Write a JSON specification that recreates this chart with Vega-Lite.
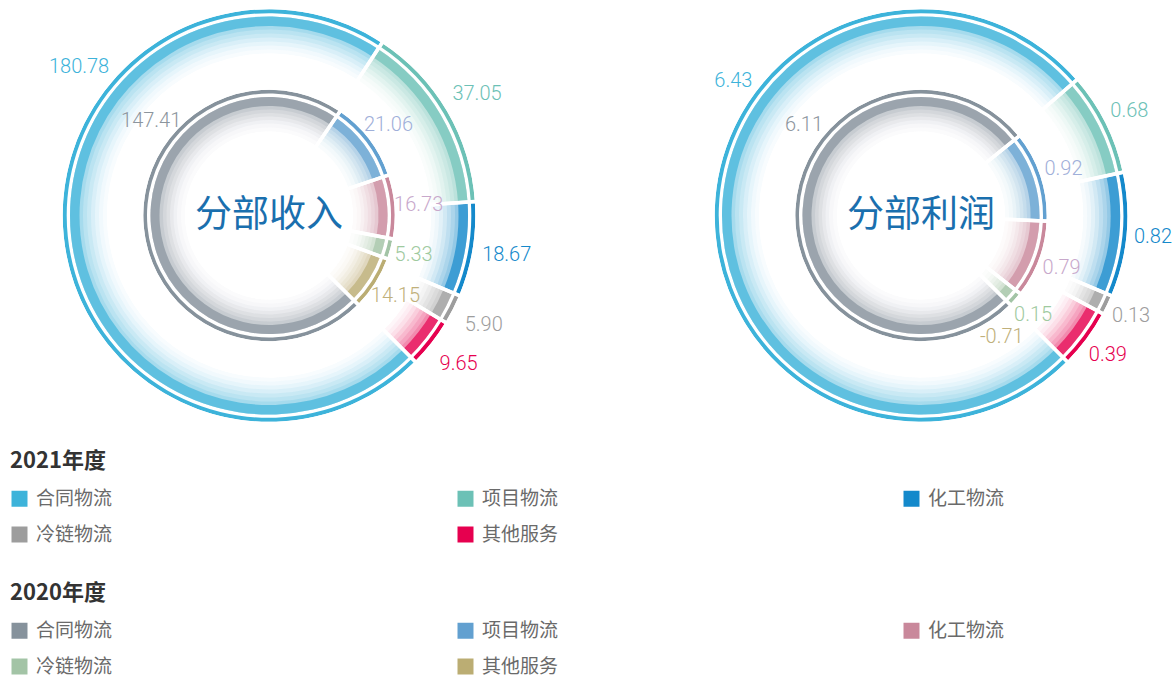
{
  "$schema": "https://vega.github.io/schema/vega-lite/v6.json",
  "padding": {"left": 10, "top": 0, "right": 0, "bottom": 0},
  "background": "white",
  "data": {"values": [
    {"metric": "分部收入", "year": "2021", "seg": "合同物流", "value": 180.78, "share": 180.78},
    {"metric": "分部收入", "year": "2021", "seg": "项目物流", "value": 37.05, "share": 37.05},
    {"metric": "分部收入", "year": "2021", "seg": "化工物流", "value": 18.67, "share": 18.67},
    {"metric": "分部收入", "year": "2021", "seg": "冷链物流", "value": 5.90, "share": 5.90},
    {"metric": "分部收入", "year": "2021", "seg": "其他服务", "value": 9.65, "share": 9.65},
    {"metric": "分部收入", "year": "2020", "seg": "合同物流", "value": 147.41, "share": 147.41},
    {"metric": "分部收入", "year": "2020", "seg": "项目物流", "value": 21.06, "share": 21.06},
    {"metric": "分部收入", "year": "2020", "seg": "化工物流", "value": 16.73, "share": 16.73},
    {"metric": "分部收入", "year": "2020", "seg": "冷链物流", "value": 5.33, "share": 5.33},
    {"metric": "分部收入", "year": "2020", "seg": "其他服务", "value": 14.15, "share": 14.15},
    {"metric": "分部利润", "year": "2021", "seg": "合同物流", "value": 6.43, "share": 6.43},
    {"metric": "分部利润", "year": "2021", "seg": "项目物流", "value": 0.68, "share": 0.68},
    {"metric": "分部利润", "year": "2021", "seg": "化工物流", "value": 0.82, "share": 0.82},
    {"metric": "分部利润", "year": "2021", "seg": "冷链物流", "value": 0.13, "share": 0.13},
    {"metric": "分部利润", "year": "2021", "seg": "其他服务", "value": 0.39, "share": 0.39},
    {"metric": "分部利润", "year": "2020", "seg": "合同物流", "value": 6.11, "share": 6.11},
    {"metric": "分部利润", "year": "2020", "seg": "项目物流", "value": 0.92, "share": 0.92},
    {"metric": "分部利润", "year": "2020", "seg": "化工物流", "value": 0.79, "share": 0.79},
    {"metric": "分部利润", "year": "2020", "seg": "冷链物流", "value": 0.15, "share": 0.15},
    {"metric": "分部利润", "year": "2020", "seg": "其他服务", "value": -0.71, "share": 0}
  ]},
  "transform": [{"window": [{"op": "row_number", "as": "rank"}]}],
  "facet": {"column": {"field": "metric", "type": "nominal", "sort": ["分部收入", "分部利润"], "header": {"title": null, "labels": false}}},
  "spacing": {"column": 130},
  "spec": {
    "width": 518,
    "height": 425,
    "layer": [
      {
        "transform": [{"filter": "datum.year == '2021'"}],
        "encoding": {
          "theta": {"field": "share", "type": "quantitative", "stack": "normalize", "scale": {"range": [2.35619449, 8.6393798]}},
          "order": {"field": "rank", "type": "quantitative"},
          "color": {
            "field": "seg", "type": "nominal",
            "scale": {"domain": ["合同物流", "项目物流", "化工物流", "冷链物流", "其他服务"], "range": ["#3db3da", "#6cc1b6", "#1489cb", "#9d9d9d", "#e6004f"]},
            "legend": {"title": "2021年度", "orient": "bottom", "offset": 20, "direction": "horizontal", "columns": 3, "columnPadding": 343, "rowPadding": 16, "symbolType": "square", "symbolSize": 256, "symbolStrokeWidth": 0, "symbolOpacity": 1, "labelFont": "Noto Sans CJK SC", "labelFontSize": 19, "labelColor": "#6a6a6a", "labelOffset": 7, "labelLimit": 300, "titleFont": "Noto Sans CJK SC", "titleFontSize": 22, "titleFontWeight": "bold", "titleColor": "#333333", "titlePadding": 16, "titleAnchor": "start", "padding": 0}
          }
        },
        "layer": [
          {"mark": {"type": "arc", "radius": 206.3, "radius2": 202.3}},
          {"mark": {"type": "arc", "radius": 199, "radius2": 162, "opacity": 0.035}},
          {"mark": {"type": "arc", "radius": 199, "radius2": 166, "opacity": 0.036}},
          {"mark": {"type": "arc", "radius": 199, "radius2": 170, "opacity": 0.054}},
          {"mark": {"type": "arc", "radius": 199, "radius2": 174, "opacity": 0.08}},
          {"mark": {"type": "arc", "radius": 199, "radius2": 178, "opacity": 0.099}},
          {"mark": {"type": "arc", "radius": 199, "radius2": 182, "opacity": 0.11}},
          {"mark": {"type": "arc", "radius": 199, "radius2": 186, "opacity": 0.154}},
          {"mark": {"type": "arc", "radius": 199, "radius2": 189.5, "opacity": 0.673}},
          {
            "transform": [{"filter": "datum.share > 0"}],
            "mark": {"type": "arc", "radius": 208.05, "radius2": 160.25, "fill": "transparent", "stroke": "white", "strokeWidth": 3.5},
            "encoding": {"color": {"value": "transparent"}}
          },
          {
            "mark": {"type": "text", "radius": 241, "font": "Roboto", "fontWeight": 300, "fontSize": 20, "align": "center", "baseline": "middle"},
            "encoding": {"text": {"condition": {"test": "datum.seg != '合同物流' && datum.metric == '分部收入'", "field": "value", "format": ".2f"}, "value": ""}}
          },
          {
            "mark": {"type": "text", "radius": 233, "font": "Roboto", "fontWeight": 300, "fontSize": 20, "align": "center", "baseline": "middle"},
            "encoding": {"text": {"condition": {"test": "datum.seg != '合同物流' && datum.metric == '分部利润'", "field": "value", "format": ".2f"}, "value": ""}}
          },
          {
            "mark": {"type": "text", "radius": 241, "font": "Roboto", "fontWeight": 300, "fontSize": 20, "align": "center", "baseline": "middle"},
            "encoding": {
              "theta": {"field": "share", "type": "quantitative", "stack": "normalize", "bandPosition": 0.67, "scale": {"range": [2.35619449, 8.6393798]}},
              "text": {"condition": {"test": "datum.seg == '合同物流' && datum.metric == '分部收入'", "field": "value", "format": ".2f"}, "value": ""}
            }
          },
          {
            "mark": {"type": "text", "radius": 231, "font": "Roboto", "fontWeight": 300, "fontSize": 20, "align": "center", "baseline": "middle"},
            "encoding": {
              "theta": {"field": "share", "type": "quantitative", "stack": "normalize", "bandPosition": 0.623, "scale": {"range": [2.35619449, 8.6393798]}},
              "text": {"condition": {"test": "datum.seg == '合同物流' && datum.metric == '分部利润'", "field": "value", "format": ".2f"}, "value": ""}
            }
          }
        ]
      },
      {
        "transform": [{"filter": "datum.year == '2020'"}],
        "encoding": {
          "theta": {"field": "share", "type": "quantitative", "stack": "normalize", "scale": {"range": [2.35619449, 8.6393798]}},
          "order": {"field": "rank", "type": "quantitative"},
          "fill": {
            "field": "seg", "type": "nominal",
            "scale": {"domain": ["合同物流", "项目物流", "化工物流", "冷链物流", "其他服务"], "range": ["#86929c", "#62a0d0", "#c9889b", "#a3c4a6", "#bbad73"]},
            "legend": {"title": "2020年度", "orient": "none", "legendX": 0, "legendY": 580, "direction": "horizontal", "columns": 3, "columnPadding": 343, "rowPadding": 16, "symbolType": "square", "symbolSize": 256, "symbolStrokeWidth": 0, "symbolOpacity": 1, "labelFont": "Noto Sans CJK SC", "labelFontSize": 19, "labelColor": "#6a6a6a", "labelOffset": 7, "labelLimit": 300, "titleFont": "Noto Sans CJK SC", "titleFontSize": 22, "titleFontWeight": "bold", "titleColor": "#333333", "titlePadding": 16, "titleAnchor": "start", "padding": 0}
          }
        },
        "layer": [
          {"mark": {"type": "arc", "radius": 125.7, "radius2": 122}},
          {"mark": {"type": "arc", "radius": 118.5, "radius2": 84, "opacity": 0.035}},
          {"mark": {"type": "arc", "radius": 118.5, "radius2": 88, "opacity": 0.036}},
          {"mark": {"type": "arc", "radius": 118.5, "radius2": 92, "opacity": 0.054}},
          {"mark": {"type": "arc", "radius": 118.5, "radius2": 95.5, "opacity": 0.08}},
          {"mark": {"type": "arc", "radius": 118.5, "radius2": 99, "opacity": 0.099}},
          {"mark": {"type": "arc", "radius": 118.5, "radius2": 102.5, "opacity": 0.11}},
          {"mark": {"type": "arc", "radius": 118.5, "radius2": 106, "opacity": 0.154}},
          {"mark": {"type": "arc", "radius": 118.5, "radius2": 109.5, "opacity": 0.673}},
          {
            "transform": [{"filter": "datum.share > 0"}],
            "mark": {"type": "arc", "radius": 127.45, "radius2": 82.25, "fill": "transparent", "stroke": "white", "strokeWidth": 3.5},
            "encoding": {"fill": {"value": "transparent"}}
          },
          {
            "mark": {"type": "text", "radius": 150, "font": "Roboto", "fontWeight": 300, "fontSize": 20, "align": "center", "baseline": "middle"},
            "encoding": {
              "detail": {"field": "seg"},
              "fill": {"condition": [{"test": "datum.seg == '项目物流'", "value": "#9fafd9"}, {"test": "datum.seg == '化工物流'", "value": "#c8a8cb"}, {"test": "datum.seg == '冷链物流'", "value": "#9fca9f"}, {"test": "datum.seg == '其他服务'", "value": "#c0b07a"}], "value": "#8c959d"},
              "text": {"condition": {"test": "datum.seg != '合同物流' && datum.value > 0", "field": "value", "format": ".2f"}, "value": ""}
            }
          },
          {
            "mark": {"type": "text", "radius": 151, "font": "Roboto", "fontWeight": 300, "fontSize": 20, "align": "center", "baseline": "middle"},
            "encoding": {
              "detail": {"field": "seg"},
              "fill": {"value": "#8c959d"},
              "theta": {"field": "share", "type": "quantitative", "stack": "normalize", "bandPosition": 0.67, "scale": {"range": [2.35619449, 8.6393798]}},
              "text": {"condition": {"test": "datum.seg == '合同物流' && datum.metric == '分部收入'", "field": "value", "format": ".2f"}, "value": ""}
            }
          },
          {
            "mark": {"type": "text", "radius": 148, "font": "Roboto", "fontWeight": 300, "fontSize": 20, "align": "center", "baseline": "middle"},
            "encoding": {
              "detail": {"field": "seg"},
              "fill": {"value": "#8c959d"},
              "theta": {"field": "share", "type": "quantitative", "stack": "normalize", "bandPosition": 0.626, "scale": {"range": [2.35619449, 8.6393798]}},
              "text": {"condition": {"test": "datum.seg == '合同物流' && datum.metric == '分部利润'", "field": "value", "format": ".2f"}, "value": ""}
            }
          },
          {
            "mark": {"type": "text", "radius": 146, "thetaOffset": 0.199, "font": "Roboto", "fontWeight": 300, "fontSize": 20, "align": "center", "baseline": "middle"},
            "encoding": {
              "detail": {"field": "seg"},
              "fill": {"value": "#c0b07a"},
              "text": {"condition": {"test": "datum.value < 0", "field": "value", "format": ".2f"}, "value": ""}
            }
          }
        ]
      },
      {
        "transform": [{"filter": "datum.year == '2021' && datum.seg == '合同物流'"}],
        "mark": {"type": "text", "font": "Noto Sans CJK SC", "fontSize": 37, "color": "#1a6fae", "align": "center", "baseline": "middle"},
        "encoding": {"text": {"field": "metric", "type": "nominal"}}
      }
    ]
  },
  "config": {
    "view": {"stroke": null},
    "locale": {"number": {"decimal": ".", "thousands": ",", "grouping": [3], "currency": ["", ""], "minus": "-"}}
  }
}
